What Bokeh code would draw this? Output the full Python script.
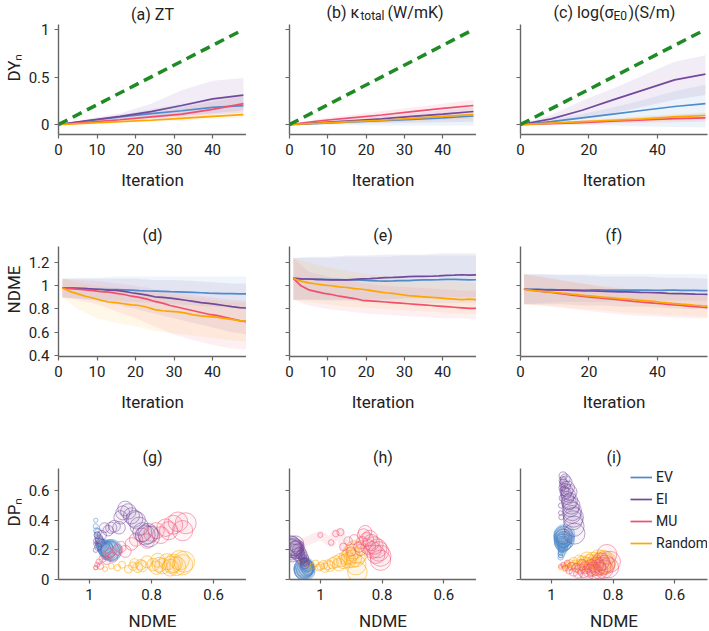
from bokeh.plotting import figure
from bokeh.layouts import column, row
from bokeh.models import (Range1d, FixedTicker, NumeralTickFormatter, CustomJSTickFormatter,
                          Label, Legend, LegendItem)
from bokeh.embed import file_html
from bokeh.resources import INLINE

FONT = "Roboto"
C_EV = "#4f8bcc"
C_EI = "#74489c"
C_MU = "#f0506e"
C_RD = "#ffa500"
C_ID = "#1f8b24"
METHODS = ["EV", "EI", "MU", "Random"]

# ---------------- Row 1 : DY_n vs iteration ----------------
IT_AB = [0, 8, 16, 24, 32, 40, 48]
IT_C = [0, 9, 18, 27, 36, 45, 54]
IDEAL_X_AB = [0, 48]
IDEAL_X_C = [0, 54]
IDEAL_Y = [0, 1]

A_EV = [0, 0.04, 0.08, 0.115, 0.145, 0.18, 0.20]
A_EI = [0, 0.045, 0.085, 0.135, 0.20, 0.27, 0.31]
A_MU = [0, 0.025, 0.05, 0.08, 0.11, 0.16, 0.22]
A_RD = [0, 0.015, 0.03, 0.045, 0.065, 0.085, 0.105]
A_EV_UP = [0, 0.05, 0.10, 0.16, 0.22, 0.27, 0.30]
A_EV_LO = [0, 0.02, 0.05, 0.07, 0.09, 0.11, 0.12]
A_EI_UP = [0, 0.06, 0.12, 0.22, 0.36, 0.46, 0.49]
A_EI_LO = [0, 0.03, 0.05, 0.07, 0.09, 0.12, 0.15]
A_MU_UP = [0, 0.04, 0.08, 0.12, 0.18, 0.24, 0.30]
A_MU_LO = [0, 0.01, 0.03, 0.05, 0.07, 0.10, 0.13]
A_RD_UP = [0, 0.025, 0.05, 0.07, 0.09, 0.11, 0.13]
A_RD_LO = [0, 0.01, 0.02, 0.03, 0.04, 0.06, 0.07]

B_EV = [0, 0.013, 0.027, 0.04, 0.055, 0.07, 0.09]
B_EI = [0, 0.02, 0.04, 0.06, 0.085, 0.11, 0.137]
B_MU = [0, 0.04, 0.07, 0.10, 0.135, 0.17, 0.20]
B_RD = [0, 0.015, 0.03, 0.045, 0.065, 0.085, 0.105]
B_EV_UP = [0, 0.02, 0.04, 0.06, 0.08, 0.10, 0.13]
B_EV_LO = [0, 0.0, -0.005, -0.01, -0.01, -0.01, -0.01]
B_EI_UP = [0, 0.03, 0.06, 0.09, 0.12, 0.15, 0.19]
B_EI_LO = [0, 0.005, 0.01, 0.015, 0.02, 0.025, 0.03]
B_MU_UP = [0, 0.06, 0.10, 0.14, 0.18, 0.22, 0.26]
B_MU_LO = [0, 0.02, 0.04, 0.06, 0.08, 0.10, 0.13]
B_RD_UP = [0, 0.025, 0.05, 0.07, 0.09, 0.11, 0.14]
B_RD_LO = [0, 0.005, 0.01, 0.02, 0.035, 0.05, 0.06]

C_EV_V = [0, 0.03, 0.07, 0.11, 0.15, 0.19, 0.22]
C_EI_V = [0, 0.06, 0.15, 0.26, 0.365, 0.47, 0.53]
C_MU_V = [0, 0.01, 0.02, 0.035, 0.05, 0.062, 0.07]
C_RD_V = [0, 0.015, 0.03, 0.045, 0.06, 0.08, 0.095]
C_EV_UP = [0, 0.05, 0.11, 0.18, 0.26, 0.35, 0.42]
C_EV_LO = [0, 0.0, -0.005, -0.01, -0.02, -0.025, -0.03]
C_EI_UP = [0, 0.10, 0.25, 0.38, 0.52, 0.66, 0.73]
C_EI_LO = [0, 0.02, 0.06, 0.12, 0.19, 0.26, 0.31]
C_MU_UP = [0, 0.02, 0.04, 0.06, 0.08, 0.10, 0.12]
C_MU_LO = [0, 0.0, 0.0, 0.01, 0.02, 0.025, 0.03]
C_RD_UP = [0, 0.025, 0.045, 0.065, 0.09, 0.11, 0.13]
C_RD_LO = [0, 0.005, 0.015, 0.025, 0.03, 0.04, 0.05]

# ---------------- Row 2 : NDME vs iteration ----------------
IT_DE = list(range(1, 50, 2))
IT_F = list(range(1, 56, 2))

D_EV = [0.98, 0.98, 0.978, 0.975, 0.972, 0.97, 0.968, 0.966, 0.964, 0.962, 0.958, 0.955, 0.953,
        0.951, 0.949, 0.948, 0.946, 0.943, 0.94, 0.937, 0.935, 0.933, 0.932, 0.93, 0.93]
D_EI = [0.98, 0.98, 0.978, 0.975, 0.972, 0.968, 0.963, 0.96, 0.952, 0.94, 0.93, 0.92, 0.905,
        0.9, 0.893, 0.885, 0.875, 0.865, 0.855, 0.848, 0.84, 0.83, 0.82, 0.812, 0.808]
D_MU = [0.98, 0.975, 0.97, 0.965, 0.958, 0.95, 0.945, 0.935, 0.925, 0.91, 0.9, 0.885, 0.865,
        0.85, 0.83, 0.815, 0.8, 0.785, 0.77, 0.755, 0.745, 0.73, 0.715, 0.7, 0.69]
D_RD = [0.98, 0.95, 0.93, 0.91, 0.895, 0.875, 0.86, 0.855, 0.845, 0.835, 0.83, 0.815, 0.795,
        0.785, 0.78, 0.775, 0.765, 0.75, 0.74, 0.735, 0.73, 0.72, 0.71, 0.7, 0.695]

E_EV = [1.063, 1.06, 1.058, 1.055, 1.055, 1.052, 1.052, 1.05, 1.05, 1.048, 1.045, 1.042, 1.04,
        1.042, 1.045, 1.045, 1.048, 1.05, 1.05, 1.052, 1.055, 1.055, 1.053, 1.05, 1.052]
E_EI = [1.063, 1.06, 1.058, 1.055, 1.052, 1.05, 1.05, 1.05, 1.055, 1.06, 1.062, 1.065, 1.07,
        1.072, 1.075, 1.078, 1.08, 1.08, 1.082, 1.085, 1.09, 1.092, 1.095, 1.092, 1.095]
E_MU = [1.063, 1.0, 0.965, 0.95, 0.935, 0.925, 0.91, 0.9, 0.89, 0.875, 0.87, 0.865, 0.86,
        0.855, 0.85, 0.845, 0.84, 0.835, 0.83, 0.825, 0.82, 0.815, 0.81, 0.805, 0.805]
E_RD = [1.063, 1.04, 1.025, 1.015, 1.005, 1.0, 0.99, 0.985, 0.975, 0.97, 0.96, 0.95, 0.94,
        0.935, 0.925, 0.915, 0.91, 0.905, 0.9, 0.895, 0.89, 0.885, 0.88, 0.885, 0.88]

F_EV = [0.97, 0.97, 0.97, 0.968, 0.968, 0.965, 0.965, 0.963, 0.962, 0.962, 0.965, 0.965, 0.963,
        0.962, 0.962, 0.963, 0.962, 0.962, 0.962, 0.96, 0.96, 0.962, 0.962, 0.96, 0.96, 0.96,
        0.958, 0.958]
F_EI = [0.97, 0.968, 0.968, 0.965, 0.965, 0.963, 0.962, 0.96, 0.958, 0.955, 0.955, 0.953, 0.952,
        0.95, 0.948, 0.947, 0.945, 0.943, 0.942, 0.94, 0.938, 0.935, 0.933, 0.932, 0.93, 0.928,
        0.927, 0.925]
F_MU = [0.97, 0.962, 0.955, 0.948, 0.942, 0.935, 0.928, 0.92, 0.913, 0.907, 0.9, 0.895, 0.89,
        0.885, 0.878, 0.872, 0.865, 0.86, 0.855, 0.85, 0.845, 0.84, 0.835, 0.83, 0.825, 0.82,
        0.815, 0.81]
F_RD = [0.97, 0.96, 0.955, 0.95, 0.945, 0.94, 0.935, 0.928, 0.922, 0.915, 0.91, 0.905, 0.9,
        0.895, 0.89, 0.885, 0.88, 0.875, 0.87, 0.865, 0.858, 0.852, 0.847, 0.842, 0.838, 0.832,
        0.828, 0.825]

IT_BAND_DE = [1, 5, 10, 15, 20, 25, 30, 35, 40, 45, 49]
IT_BAND_F = [1, 6, 12, 18, 24, 30, 36, 42, 48, 55]

D_EV_UP = [1.06, 1.07, 1.07, 1.08, 1.08, 1.08, 1.08, 1.08, 1.08, 1.08, 1.08]
D_EV_LO = [0.9, 0.89, 0.88, 0.87, 0.86, 0.85, 0.84, 0.83, 0.82, 0.81, 0.8]
D_EI_UP = [1.06, 1.06, 1.06, 1.06, 1.06, 1.05, 1.05, 1.04, 1.03, 1.02, 1.02]
D_EI_LO = [0.9, 0.89, 0.87, 0.84, 0.8, 0.76, 0.72, 0.68, 0.64, 0.6, 0.58]
D_MU_UP = [1.06, 1.05, 1.04, 1.02, 1.0, 0.97, 0.95, 0.92, 0.9, 0.88, 0.87]
D_MU_LO = [0.9, 0.88, 0.84, 0.78, 0.72, 0.65, 0.58, 0.53, 0.49, 0.46, 0.45]
D_RD_UP = [1.06, 1.03, 1.0, 0.98, 0.96, 0.94, 0.92, 0.9, 0.88, 0.86, 0.85]
D_RD_LO = [0.9, 0.8, 0.72, 0.68, 0.65, 0.61, 0.59, 0.57, 0.55, 0.53, 0.52]

E_EV_UP = [1.24, 1.24, 1.24, 1.25, 1.25, 1.25, 1.26, 1.26, 1.26, 1.26, 1.26]
E_EV_LO = [0.88, 0.88, 0.87, 0.87, 0.86, 0.86, 0.86, 0.85, 0.85, 0.85, 0.85]
E_EI_UP = [1.24, 1.25, 1.25, 1.26, 1.26, 1.27, 1.27, 1.27, 1.28, 1.28, 1.28]
E_EI_LO = [0.88, 0.88, 0.88, 0.88, 0.88, 0.88, 0.89, 0.89, 0.9, 0.9, 0.9]
E_MU_UP = [1.24, 1.12, 1.08, 1.05, 1.02, 1.0, 0.99, 0.98, 0.97, 0.96, 0.96]
E_MU_LO = [0.88, 0.83, 0.8, 0.78, 0.76, 0.75, 0.74, 0.73, 0.72, 0.72, 0.71]
E_RD_UP = [1.24, 1.2, 1.16, 1.13, 1.1, 1.08, 1.06, 1.05, 1.04, 1.03, 1.02]
E_RD_LO = [0.88, 0.86, 0.84, 0.82, 0.81, 0.8, 0.79, 0.78, 0.77, 0.76, 0.76]

F_EV_UP = [1.1, 1.1, 1.1, 1.1, 1.1, 1.1, 1.1, 1.1, 1.1, 1.1]
F_EV_LO = [0.84, 0.85, 0.86, 0.86, 0.86, 0.87, 0.87, 0.87, 0.87, 0.87]
F_EI_UP = [1.1, 1.1, 1.09, 1.09, 1.08, 1.08, 1.08, 1.07, 1.07, 1.06]
F_EI_LO = [0.84, 0.84, 0.84, 0.83, 0.83, 0.82, 0.82, 0.81, 0.8, 0.8]
F_MU_UP = [1.1, 1.08, 1.05, 1.02, 0.99, 0.97, 0.95, 0.94, 0.93, 0.92]
F_MU_LO = [0.84, 0.83, 0.81, 0.79, 0.77, 0.75, 0.74, 0.73, 0.72, 0.72]
F_RD_UP = [1.1, 1.07, 1.04, 1.02, 1.0, 0.98, 0.96, 0.95, 0.94, 0.93]
F_RD_LO = [0.84, 0.83, 0.82, 0.8, 0.79, 0.77, 0.76, 0.75, 0.74, 0.73]

# ---------------- Row 3 : DP_n vs NDME (bubbles, one per 2 iterations) ----------------
G_EV = [0.4, 0.36, 0.33, 0.3, 0.32, 0.28, 0.26, 0.25, 0.24, 0.23, 0.22, 0.23, 0.21, 0.2, 0.22,
        0.21, 0.2, 0.19, 0.2, 0.21, 0.2, 0.19, 0.2, 0.19, 0.2]
G_EI = [0.24, 0.2, 0.26, 0.3, 0.22, 0.27, 0.25, 0.3, 0.35, 0.33, 0.35, 0.36, 0.35, 0.42, 0.45,
        0.48, 0.46, 0.43, 0.41, 0.4, 0.36, 0.32, 0.3, 0.31, 0.29]
G_MU = [0.08, 0.1, 0.12, 0.09, 0.14, 0.16, 0.13, 0.18, 0.15, 0.2, 0.22, 0.19, 0.24, 0.27, 0.3,
        0.26, 0.31, 0.33, 0.3, 0.35, 0.33, 0.37, 0.39, 0.33, 0.38]
G_RD = [0.08, 0.07, 0.09, 0.08, 0.1, 0.07, 0.09, 0.11, 0.08, 0.1, 0.09, 0.12, 0.1, 0.08, 0.13,
        0.1, 0.09, 0.12, 0.08, 0.1, 0.11, 0.09, 0.13, 0.1, 0.12]

H_EV = [0.15, 0.14, 0.12, 0.13, 0.11, 0.12, 0.1, 0.09, 0.11, 0.08, 0.1, 0.09, 0.07, 0.08, 0.1,
        0.07, 0.08, 0.06, 0.07, 0.08, 0.06, 0.07, 0.08, 0.06, 0.07]
H_EI = [0.2, 0.18, 0.15, 0.13, 0.12, 0.14, 0.1, 0.12, 0.15, 0.17, 0.14, 0.18, 0.2, 0.17, 0.22,
        0.19, 0.21, 0.24, 0.2, 0.22, 0.18, 0.21, 0.23, 0.2, 0.22]
H_MU = [0.24, 0.3, 0.25, 0.31, 0.32, 0.22, 0.26, 0.19, 0.27, 0.22, 0.2, 0.25, 0.3, 0.32, 0.27,
        0.22, 0.28, 0.25, 0.2, 0.23, 0.17, 0.21, 0.19, 0.13, 0.16]
H_RD = [0.12, 0.1, 0.09, 0.11, 0.08, 0.09, 0.1, 0.08, 0.1, 0.09, 0.11, 0.12, 0.1, 0.13, 0.12,
        0.15, 0.13, 0.16, 0.18, 0.14, 0.2, 0.15, 0.05, 0.1, 0.18]
H_MU_TRAIL = 7      # early MU iterations joined by a faint trail in (h)

I_EV = [0.16, 0.18, 0.15, 0.2, 0.17, 0.22, 0.19, 0.24, 0.21, 0.25, 0.22, 0.27, 0.24, 0.28, 0.25,
        0.3, 0.26, 0.29, 0.24, 0.27, 0.3, 0.25, 0.28, 0.3, 0.26, 0.29, 0.27, 0.3]
I_EI = [0.45, 0.42, 0.5, 0.55, 0.62, 0.67, 0.7, 0.65, 0.6, 0.68, 0.63, 0.58, 0.66, 0.6, 0.55,
        0.62, 0.57, 0.52, 0.59, 0.53, 0.48, 0.5, 0.44, 0.46, 0.4, 0.42, 0.36, 0.31]
I_MU = [0.09, 0.1, 0.08, 0.11, 0.06, 0.09, 0.05, 0.08, 0.04, 0.07, 0.1, 0.05, 0.08, 0.03, 0.06,
        0.09, 0.07, 0.05, 0.1, 0.08, 0.06, 0.12, 0.09, 0.07, 0.1, 0.17, 0.08, 0.12]
I_RD = [0.08, 0.09, 0.07, 0.1, 0.08, 0.11, 0.09, 0.12, 0.1, 0.08, 0.13, 0.1, 0.12, 0.09, 0.11,
        0.14, 0.1, 0.12, 0.08, 0.13, 0.11, 0.09, 0.14, 0.12, 0.1, 0.13, 0.11, 0.12]

# ---------------- layout geometry ----------------
LEFT = [57, 43, 44]
FW = [188, 187, 187]
RIGHT = [0, 0, 3]
TOP = 24            # title strip, drawn inside the (extended) frame
FH = [110, 110, 111]
BOTTOM = [88, 88, 52]
COLORS = [C_EV, C_EI, C_MU, C_RD]
NAN = float("nan")


def make_fig(r, c, xr, yr, xticks, yticks, xlabel, ylabel):
    y0, y1 = yr
    ytop = y1 + TOP * (y1 - y0) / FH[r]
    p = figure(frame_width=FW[c], frame_height=FH[r] + TOP, min_border_left=LEFT[c],
               min_border_right=RIGHT[c], min_border_top=0, min_border_bottom=BOTTOM[r],
               x_range=Range1d(*xr), y_range=Range1d(y0, ytop), output_backend="svg",
               toolbar_location=None, tools="")
    p.grid.visible = False
    p.outline_line_color = None
    p.background_fill_color = "white"
    p.border_fill_color = "white"
    for ax in (p.xaxis[0], p.yaxis[0]):
        ax.axis_line_color = "#666666"
        ax.axis_line_width = 1.4
        ax.major_tick_line_color = "#666666"
        ax.major_tick_line_width = 1.2
        ax.major_tick_out = 4
        ax.major_tick_in = 0
        ax.minor_tick_line_color = None
        ax.major_label_text_font = FONT
        ax.major_label_text_font_size = "15px"
        ax.major_label_text_color = "#222222"
        ax.major_label_standoff = 5
        ax.axis_label_text_font = FONT
        ax.axis_label_text_font_size = "17px"
        ax.axis_label_text_font_style = "normal"
        ax.axis_label_text_color = "#222222"
        ax.formatter = NumeralTickFormatter(format="0.[0]")
    p.yaxis.bounds = (y0, y1)
    p.xaxis.ticker = FixedTicker(ticks=xticks)
    p.yaxis.ticker = FixedTicker(ticks=yticks)
    p.xaxis.axis_label = xlabel
    p.xaxis.axis_label_standoff = 12 if r < 2 else 8
    if c == 0:
        p.yaxis.axis_label = ylabel
        p.yaxis.axis_label_standoff = 2
    else:
        p.yaxis.formatter = CustomJSTickFormatter(code="return ''")
    return p


def add_title(p, r, c, xr, yr, pieces):
    x0, x1 = xr
    y0, y1 = yr
    for text, px, dy, size, align in pieces:
        xd = x0 + px * (x1 - x0) / FW[c]
        yd = y1 + dy * (y1 - y0) / FH[r]
        p.add_layout(Label(x=xd, y=yd, text=text, text_font=FONT,
                           text_font_size=f"{size}px", text_align=align,
                           text_baseline="middle", text_color="#222222"))


# Row 1
Y1 = (-0.105, 1.053)
row1_specs = [
    (0, (0, 48.8), IT_AB, IDEAL_X_AB, [0, 10, 20, 30, 40],
     [A_EV, A_EI, A_MU, A_RD], [A_EV_UP, A_EI_UP, A_MU_UP, A_RD_UP], [A_EV_LO, A_EI_LO, A_MU_LO, A_RD_LO]),
    (1, (0, 48.8), IT_AB, IDEAL_X_AB, [0, 10, 20, 30, 40],
     [B_EV, B_EI, B_MU, B_RD], [B_EV_UP, B_EI_UP, B_MU_UP, B_RD_UP], [B_EV_LO, B_EI_LO, B_MU_LO, B_RD_LO]),
    (2, (0, 54.6), IT_C, IDEAL_X_C, [0, 20, 40],
     [C_EV_V, C_EI_V, C_MU_V, C_RD_V], [C_EV_UP, C_EI_UP, C_MU_UP, C_RD_UP], [C_EV_LO, C_EI_LO, C_MU_LO, C_RD_LO]),
]
row1 = []
for c, xr, its, idx, xt, vals, ups, los in row1_specs:
    p = make_fig(0, c, xr, Y1, xt, [0, 0.5, 1], "Iteration", "DYₙ")
    for col, up, lo in zip(COLORS, ups, los):
        p.varea(x=its, y1=lo, y2=up, fill_color=col, fill_alpha=0.1)
    for col, v in zip(COLORS, vals):
        p.line(its, v, line_color=col, line_width=1.7)
    p.line(idx, IDEAL_Y, line_color=C_ID, line_width=3.5, line_dash="10 6")
    row1.append(p)
add_title(row1[0], 0, 0, (0, 48.8), Y1, [("(a) ZT", FW[0] / 2, 10.5, 16, "center")])
add_title(row1[1], 0, 1, (0, 48.8), Y1, [("(b) κ", 70, 12, 16, "right"), ("total", 71, 8.5, 12, "left"),
                                         ("(W/mK)", 98, 12, 16, "left")])
add_title(row1[2], 0, 2, (0, 54.6), Y1, [("(c) log(σ", 93, 12, 16, "right"), ("E0", 93, 8.5, 12, "left"),
                                         (")(S/m)", 108, 12, 16, "left")])

# Row 2
Y2 = (0.391, 1.338)
row2_specs = [
    (0, (0, 48.8), IT_DE, IT_BAND_DE, [0, 10, 20, 30, 40], [D_EV, D_EI, D_MU, D_RD],
     [D_EV_UP, D_EI_UP, D_MU_UP, D_RD_UP], [D_EV_LO, D_EI_LO, D_MU_LO, D_RD_LO], "(d)"),
    (1, (0, 48.8), IT_DE, IT_BAND_DE, [0, 10, 20, 30, 40], [E_EV, E_EI, E_MU, E_RD],
     [E_EV_UP, E_EI_UP, E_MU_UP, E_RD_UP], [E_EV_LO, E_EI_LO, E_MU_LO, E_RD_LO], "(e)"),
    (2, (0, 54.6), IT_F, IT_BAND_F, [0, 20, 40], [F_EV, F_EI, F_MU, F_RD],
     [F_EV_UP, F_EI_UP, F_MU_UP, F_RD_UP], [F_EV_LO, F_EI_LO, F_MU_LO, F_RD_LO], "(f)"),
]
row2 = []
for c, xr, its, itb, xt, vals, ups, los, ttl in row2_specs:
    p = make_fig(1, c, xr, Y2, xt, [0.4, 0.6, 0.8, 1, 1.2], "Iteration", "NDME")
    for col, up, lo in zip(COLORS, ups, los):
        p.varea(x=itb, y1=lo, y2=up, fill_color=col, fill_alpha=0.09)
    for col, v in zip(COLORS, vals):
        p.line(its, v, line_color=col, line_width=1.7)
    add_title(p, 1, c, xr, Y2, [(ttl, FW[c] / 2, 11, 16, "center")])
    row2.append(p)

# Row 3
Y3 = (0, 0.75)
X3 = (1.1, 0.494)
row3_specs = [
    (0, IT_DE, 49, [D_EV, D_EI, D_MU, D_RD], [G_EV, G_EI, G_MU, G_RD], "(g)"),
    (1, IT_DE, 49, [E_EV, E_EI, E_MU, E_RD], [H_EV, H_EI, H_MU, H_RD], "(h)"),
    (2, IT_F, 55, [F_EV, F_EI, F_MU, F_RD], [I_EV, I_EI, I_MU, I_RD], "(i)"),
]
row3 = []
for c, its, itmax, xs, ys, ttl in row3_specs:
    p = make_fig(2, c, X3, Y3, [1, 0.8, 0.6], [0, 0.2, 0.4, 0.6], "NDME", "DPₙ")
    if c == 1:
        p.line(E_MU[:H_MU_TRAIL], H_MU[:H_MU_TRAIL], line_color=C_MU, line_width=9,
               line_alpha=0.1, line_join="round")
    sizes = [4 + 17 * it / itmax for it in its]
    for k in [0, 3, 2, 1]:
        p.scatter(xs[k], ys[k], size=sizes, marker="circle", line_color=COLORS[k],
                  fill_color=COLORS[k], fill_alpha=0.05, line_alpha=0.55, line_width=0.9)
    add_title(p, 2, c, X3, Y3, [(ttl, FW[c] / 2, 11, 16, "center")])
    row3.append(p)

# Legend in (i): line proxies without visible points
p_i = row3[2]
items = []
for name, col in zip(METHODS, COLORS):
    r_ = p_i.line([NAN], [NAN], line_color=col, line_width=1.7)
    items.append(LegendItem(label=name, renderers=[r_]))
leg = Legend(items=items, location=(110, 27), label_text_font=FONT, label_text_font_size="14px",
             label_text_color="#222222", glyph_width=22, glyph_height=18, label_height=18,
             spacing=4, padding=0, margin=0, border_line_color=None, background_fill_alpha=0,
             label_standoff=4)
p_i.add_layout(leg)

layout = column(row(*row1), row(*row2), row(*row3))
open("out.html", "w").write(file_html(layout, INLINE))
